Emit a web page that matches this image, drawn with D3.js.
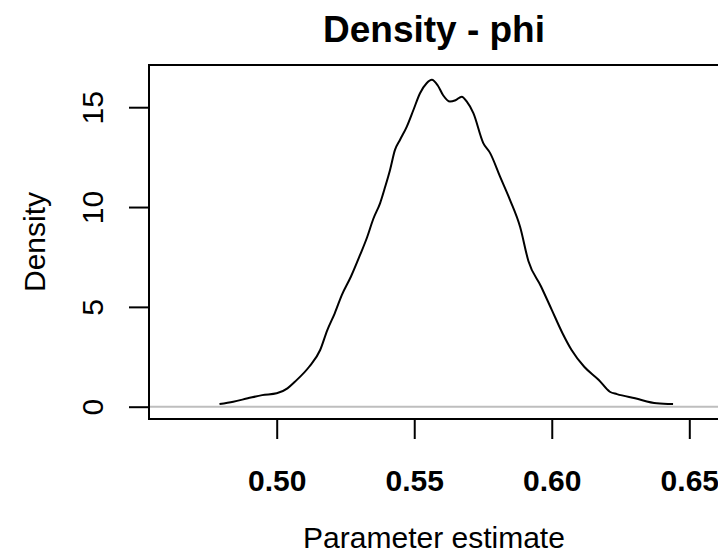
<!DOCTYPE html>
<html>
<head>
<meta charset="utf-8">
<script src="https://cdn.jsdelivr.net/npm/d3@7"></script>
<style>
  html, body { margin: 0; padding: 0; background: #ffffff; }
  svg { display: block; }
  text { font-family: "Liberation Sans", Arial, Helvetica, sans-serif; fill: #000; }
</style>
</head>
<body>
<svg id="chart" width="718" height="557"></svg>
<script>
// ---- data ----
const titleText = "Density - phi";
const xLabelText = "Parameter estimate";
const yLabelText = "Density";
const xTicks = [0.50, 0.55, 0.60, 0.65];
const xTickLabels = ["0.50", "0.55", "0.60", "0.65"];
const yTicks = [0, 5, 10, 15];
const yTickLabels = ["0", "5", "10", "15"];
const densityX = [0.4792, 0.4842, 0.4895, 0.4947, 0.5000, 0.5039, 0.5066, 0.5118, 0.5158, 0.5184,
                  0.5211, 0.5237, 0.5270, 0.5303, 0.5329, 0.5351, 0.5376, 0.5394, 0.5412, 0.5430,
                  0.5448, 0.5473, 0.5497, 0.5521, 0.5545, 0.5564, 0.5585, 0.5605, 0.5630, 0.5650,
                  0.5673, 0.5690, 0.5715, 0.5751, 0.5776, 0.5812, 0.5848, 0.5885, 0.5915, 0.5961,
                  0.6000, 0.6039, 0.6072, 0.6118, 0.6171, 0.6211, 0.6237, 0.6303, 0.6382, 0.6441];
const densityY = [0.13, 0.25, 0.42, 0.58, 0.67, 0.92, 1.25, 2.00, 2.84, 3.84,
                  4.68, 5.60, 6.52, 7.60, 8.50, 9.40, 10.20, 11.00, 11.86, 12.86,
                  13.36, 14.03, 14.86, 15.70, 16.20, 16.37, 16.10, 15.60, 15.28, 15.35,
                  15.53, 15.30, 14.70, 13.20, 12.70, 11.52, 10.36, 9.00, 7.30, 6.02,
                  4.85, 3.68, 2.84, 2.00, 1.34, 0.75, 0.63, 0.42, 0.17, 0.13];
const xDomain = [0.45357, 0.66080];
const yDomain = [-0.616, 17.114];

// ---- layout ----
const W = 718, H = 557;
const plot = { left: 149, right: 719, top: 65, bottom: 419 };
const fontSize = 30;

const svg = d3.select("#chart");

const x = d3.scaleLinear().domain(xDomain).range([plot.left, plot.right]);
const y = d3.scaleLinear().domain(yDomain).range([plot.bottom, plot.top]);

// zero reference line (gray)
svg.append("line")
  .attr("x1", plot.left).attr("x2", plot.right)
  .attr("y1", y(0)).attr("y2", y(0))
  .attr("stroke", "#bebebe").attr("stroke-width", 2);

// density curve
const pts = densityX.map((d, i) => [d, densityY[i]]);
const line = d3.line().x(d => x(d[0])).y(d => y(d[1])).curve(d3.curveMonotoneX);
svg.append("path")
  .attr("d", line(pts))
  .attr("fill", "none").attr("stroke", "#000").attr("stroke-width", 2)
  .attr("stroke-linejoin", "round");

// box
svg.append("rect")
  .attr("x", plot.left).attr("y", plot.top)
  .attr("width", plot.right - plot.left).attr("height", plot.bottom - plot.top)
  .attr("fill", "none").attr("stroke", "#000").attr("stroke-width", 2);

// x axis
const xAxis = d3.axisBottom(x).tickValues(xTicks)
  .tickFormat((d, i) => xTickLabels[i]).tickSize(20).tickPadding(30).tickSizeOuter(0);
const gx = svg.append("g").attr("transform", `translate(0,${plot.bottom})`).call(xAxis);
gx.select(".domain").remove();
gx.selectAll(".tick line").attr("stroke", "#000").attr("stroke-width", 2);
gx.selectAll(".tick text")
  .attr("font-size", fontSize).attr("font-family", null)
  .attr("font-weight", "bold").attr("fill", "#000")
  .attr("y", 72).attr("dy", null);

// y axis
const yAxis = d3.axisLeft(y).tickValues(yTicks)
  .tickFormat((d, i) => yTickLabels[i]).tickSize(20).tickSizeOuter(0);
const gy = svg.append("g").attr("transform", `translate(${plot.left},0)`).call(yAxis);
gy.select(".domain").remove();
gy.selectAll(".tick line").attr("stroke", "#000").attr("stroke-width", 2);
gy.selectAll(".tick text")
  .attr("font-size", fontSize).attr("font-family", null).attr("fill", "#000")
  .attr("x", null).attr("dy", null)
  .attr("text-anchor", "middle")
  .attr("transform", "translate(-46,0) rotate(-90)");

// title
svg.append("text")
  .attr("x", (plot.left + plot.right) / 2).attr("y", 42)
  .attr("text-anchor", "middle")
  .attr("font-size", 37).attr("font-weight", "bold")
  .text(titleText);

// x label
svg.append("text")
  .attr("x", (plot.left + plot.right) / 2).attr("y", 548)
  .attr("text-anchor", "middle")
  .attr("font-size", fontSize)
  .text(xLabelText);

// y label
svg.append("text")
  .attr("transform", `translate(45,${(plot.top + plot.bottom) / 2}) rotate(-90)`)
  .attr("text-anchor", "middle")
  .attr("font-size", fontSize)
  .text(yLabelText);
</script>
</body>
</html>
